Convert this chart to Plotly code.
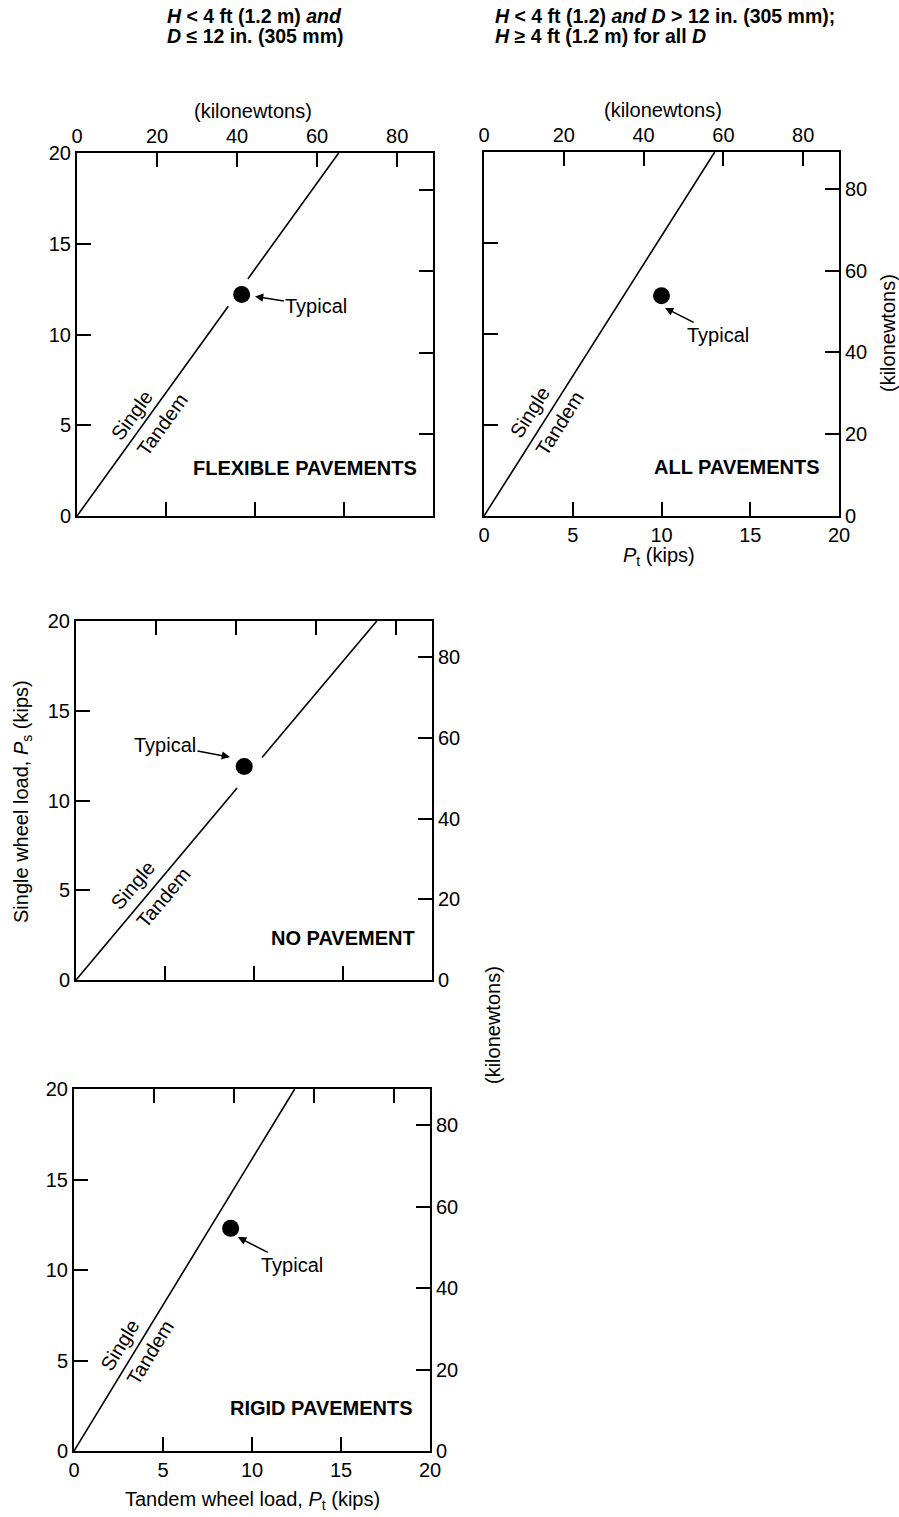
import math
import plotly.graph_objects as go

# ---------------- data (kips unless noted) ----------------
KN_PER_KIP = 4.448
panel_names = ["FLEXIBLE PAVEMENTS", "ALL PAVEMENTS", "NO PAVEMENT", "RIGID PAVEMENTS"]
# equivalence lines: tandem load Pt vs single load Ps (None = gap at typical point)
line_pt = [[0, 8.5, None, 9.6, 14.7], [0, 13.0], [0, 9.05, None, 10.45, 16.9], [0, 12.4]]
line_ps = [[0, 11.56, None, 13.06, 20], [0, 20], [0, 10.7, None, 12.4, 20], [0, 20]]
typical_pt = [9.25, 10.0, 9.45, 8.8]
typical_ps = [12.2, 12.1, 11.9, 12.3]
kip_ticks = [0, 5, 10, 15, 20]
kip_labels = ["0", "5", "10", "15", "20"]
kn_ticks = [0, 20, 40, 60, 80]
kn_labels = ["0", "20", "40", "60", "80"]

# ---------------- layout geometry ----------------
W, H = 899, 1517
FONT = "Liberation Sans, Arial, Helvetica, sans-serif"
FS = 20
boxes = [(77, 433, 153, 516), (484, 839, 152, 516), (76, 432, 621, 980), (74, 430, 1089, 1451)]
# label visibility: bottom kips, left kips, top kN, right kN
show = [(False, True, True, False), (True, False, True, True),
        (False, True, False, True), (True, True, False, True)]
arrows = [((10.0, 12.1), (13.45, 11.57)), ((10.2, 11.43), (13.2, 9.95)),
          ((8.65, 12.42), (5.0, 13.09)), ((9.21, 11.82), (12.25, 10.28))]
name_pos = [(19.2, 2.64), (19.04, 2.69), (19.16, 2.34), (19.16, 2.38)]
single_pos = [(3.09, 5.56), (2.59, 5.71), (3.2, 5.29), (2.58, 5.86)]
tandem_pos = [(4.78, 5.01), (4.28, 5.11), (4.89, 4.57), (4.27, 5.41)]

fig = go.Figure()
layout = {}
annotations = []
tfont = dict(family=FONT, size=FS, color="black")


def ax_key(kind, n):
    return f"{kind}axis" if n == 1 else f"{kind}axis{n}"


def ref(kind, n):
    return kind if n == 1 else f"{kind}{n}"


for i, (x0, x1, y0, y1) in enumerate(boxes):
    n = i + 1
    k = i + 5
    common = dict(ticks="inside", ticklen=14, tickwidth=2, tickcolor="black",
                  showgrid=False, zeroline=False, showline=True, linecolor="black",
                  linewidth=2, tickfont=tfont, fixedrange=True, automargin=False)
    layout[ax_key("x", n)] = dict(domain=[x0 / W, x1 / W], anchor=ref("y", n), range=[0, 20],
                                  tickmode="array", tickvals=kip_ticks, ticktext=kip_labels,
                                  showticklabels=show[i][0], side="bottom", **common)
    layout[ax_key("y", n)] = dict(domain=[1 - y1 / H, 1 - y0 / H], anchor=ref("x", n), range=[0, 20],
                                  tickmode="array", tickvals=kip_ticks, ticktext=kip_labels,
                                  showticklabels=show[i][1], side="left", **common)
    layout[ax_key("x", k)] = dict(overlaying=ref("x", n), anchor=ref("y", n), side="top",
                                  range=[0, 20 * KN_PER_KIP], tickmode="array", tickvals=kn_ticks,
                                  ticktext=kn_labels, showticklabels=show[i][2], **common)
    layout[ax_key("y", k)] = dict(overlaying=ref("y", n), anchor=ref("x", n), side="right",
                                  range=[0, 20 * KN_PER_KIP], tickmode="array", tickvals=kn_ticks,
                                  ticktext=kn_labels, showticklabels=show[i][3], **common)

    xr, yr = ref("x", n), ref("y", n)
    # invisible traces to register the kN axes
    fig.add_trace(go.Scatter(x=[None], y=[None], xaxis=ref("x", k), yaxis=yr,
                             showlegend=False, hoverinfo="skip"))
    fig.add_trace(go.Scatter(x=[None], y=[None], xaxis=xr, yaxis=ref("y", k),
                             showlegend=False, hoverinfo="skip"))
    # equivalence line
    fig.add_trace(go.Scatter(x=line_pt[i], y=line_ps[i], mode="lines", connectgaps=False,
                             line=dict(color="black", width=1.6), xaxis=xr, yaxis=yr,
                             showlegend=False, hoverinfo="skip"))
    # typical point
    fig.add_trace(go.Scatter(x=[typical_pt[i]], y=[typical_ps[i]], mode="markers",
                             marker=dict(size=17, color="black"), xaxis=xr, yaxis=yr,
                             showlegend=False))

    (hx, hy), (tx, ty) = arrows[i]
    annotations.append(dict(x=hx, y=hy, ax=tx, ay=ty, xref=xr, yref=yr, axref=xr, ayref=yr,
                            text="Typical", showarrow=True, arrowhead=2, arrowsize=1.1,
                            arrowwidth=1.5, arrowcolor="black", standoff=0, font=tfont))
    nx, ny = name_pos[i]
    annotations.append(dict(x=nx, y=ny, xref=xr, yref=yr, text=f"<b>{panel_names[i]}</b>",
                            showarrow=False, xanchor="right", yanchor="middle", font=tfont))
    # rotated line labels
    x_span = (x1 - x0) * max(v for v in line_pt[i] if v is not None) / 20
    ang = math.degrees(math.atan((y1 - y0) / x_span))
    sx, sy = single_pos[i]
    annotations.append(dict(x=sx, y=sy, xref=xr, yref=yr, text="Single", showarrow=False,
                            textangle=-ang, font=tfont))
    tx2, ty2 = tandem_pos[i]
    annotations.append(dict(x=tx2, y=ty2, xref=xr, yref=yr, text="Tandem", showarrow=False,
                            textangle=-ang, font=tfont))


def paper_text(px, py, text, angle=0, xanchor="center", size=FS):
    annotations.append(dict(x=px / W, y=1 - py / H, xref="paper", yref="paper", text=text,
                            showarrow=False, textangle=angle, xanchor=xanchor, yanchor="middle",
                            font=dict(family=FONT, size=size, color="black")))


# axis titles
paper_text(253, 111, "(kilonewtons)")
paper_text(663, 110, "(kilonewtons)")
paper_text(888, 333, "(kilonewtons)", angle=-90)
paper_text(659, 557, "<i>P</i><sub>t</sub> (kips)")
paper_text(22, 802, "Single wheel load, <i>P</i><sub>s</sub> (kips)", angle=-90)
paper_text(493, 1025, "(kilonewtons)", angle=-90)
paper_text(252, 1500, "Tandem wheel load, <i>P</i><sub>t</sub> (kips)")

# condition headings
paper_text(165, 16, "<b><i>H</i> &lt; 4 ft (1.2 m) <i>and</i></b>", xanchor="left", size=19.5)
paper_text(165, 36, "<b><i>D</i> ≤ 12 in. (305 mm)</b>", xanchor="left", size=19.5)
paper_text(493, 16, "<b><i>H</i> &lt; 4 ft (1.2) <i>and D</i> &gt; 12 in. (305 mm);</b>", xanchor="left", size=19.5)
paper_text(493, 36, "<b><i>H</i> ≥ 4 ft (1.2 m) for all <i>D</i></b>", xanchor="left", size=19.5)

fig.update_layout(width=W, height=H, margin=dict(l=0, r=0, t=0, b=0, pad=0),
                  paper_bgcolor="white", plot_bgcolor="white", showlegend=False,
                  annotations=annotations, **layout)
fig.write_html("out.html")
